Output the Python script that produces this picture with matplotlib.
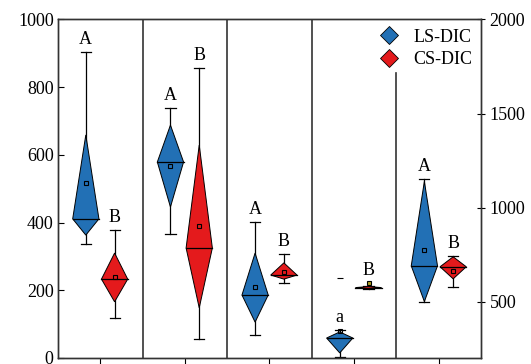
import matplotlib
matplotlib.use('Agg')
from matplotlib import pyplot as plt
from matplotlib.patches import Polygon
from matplotlib.lines import Line2D

plt.rcParams['font.family'] = ['Liberation Serif', 'DejaVu Serif']

# panels 1-4 on the left axis, panel 5 on the right axis
groups = [1, 2, 3, 4, 5]

ls_wlow = [337, 366, 68, 3, 500]
ls_q1 = [363, 446, 106, 15, 500]
ls_med = [411, 579, 186, 59, 690]
ls_q3 = [659, 688, 310, 77, 1139]
ls_whigh = [904, 739, 402, 83, 1150]
ls_mean = [517, 567, 210, 80, 775]
ls_letters = ['A', 'A', 'A', 'a', 'A']

cs_wlow = [118, 56, 222, 203, 579]
cs_q1 = [166, 148, 233, 205, 621]
cs_med = [233, 325, 245, 208, 685]
cs_q3 = [310, 629, 281, 211, 738]
cs_whigh = [378, 857, 307, 213, 743]
cs_mean = [240, 390, 254, 221, 664]
cs_letters = ['B', 'B', 'B', 'B', 'B']

ls_extra = [None, None, None, 236, None]

blue = '#2270b5'
red = '#e41a1c'

fig = plt.figure(figsize=(5.31, 3.64), dpi=100)
ax = fig.add_axes([0.109, 0.0165, 0.797, 0.93])
ax2 = ax.twinx()


def draw_box(a, x, wl, q1, med, q3, wh, mean, color, letter, mean_color='none'):
    hw = 0.155
    cap = 0.06
    a.plot([x, x], [wl, wh], color='black', lw=0.9, zorder=2)
    a.plot([x - cap, x + cap], [wl, wl], color='black', lw=0.9, zorder=2)
    a.plot([x - cap, x + cap], [wh, wh], color='black', lw=0.9, zorder=2)
    poly = Polygon([[x, q3], [x + hw, med], [x, q1], [x - hw, med]], closed=True,
                   facecolor=color, edgecolor='black', lw=0.7, zorder=3)
    a.add_patch(poly)
    a.plot([x - hw, x + hw], [med, med], color='black', lw=0.9, zorder=4)
    a.plot([x], [mean], marker='s', ms=3.5, mfc=mean_color, mec='black', mew=0.8, zorder=5)
    a.annotate(letter, (x, max(wh, mean)), xytext=(0, 3), textcoords='offset points',
               ha='center', va='bottom', fontsize=13)


for i, g in enumerate(groups):
    a = ax if g < 5 else ax2
    mc = '#b0a020' if g == 4 else 'none'
    draw_box(a, g - 0.17, ls_wlow[i], ls_q1[i], ls_med[i], ls_q3[i], ls_whigh[i], ls_mean[i], blue, ls_letters[i])
    draw_box(a, g + 0.17, cs_wlow[i], cs_q1[i], cs_med[i], cs_q3[i], cs_whigh[i], cs_mean[i], red, cs_letters[i], mc)
    if ls_extra[i] is not None:
        a.plot([g - 0.17], [ls_extra[i]], marker='_', ms=4, color='black', mew=0.8)

for xd in [1.5, 2.5, 3.5]:
    ax.axvline(xd, color='#333333', lw=1.2)
ax.axvline(4.5, ymax=0.842, color='#333333', lw=1.2)

ax.set_xlim(0.5, 5.5)
ax.set_ylim(0, 1000)
ax2.set_ylim(200, 2000)
ax.set_xticks(groups)
ax.set_xticklabels([])
ax.set_yticks([0, 200, 400, 600, 800, 1000])
ax2.set_yticks([500, 1000, 1500, 2000])
ax.tick_params(axis='y', direction='in', length=4, labelsize=13, pad=3)
ax.tick_params(axis='x', direction='out', length=6)
ax2.tick_params(axis='y', direction='inout', length=6, labelsize=13, pad=3)
for a in (ax, ax2):
    for s in a.spines.values():
        s.set_color('#333333')
        s.set_linewidth(1.0)

handles = [Line2D([], [], marker='D', ls='none', ms=9, mfc=blue, mec='black', mew=0.6),
           Line2D([], [], marker='D', ls='none', ms=9, mfc=red, mec='black', mew=0.6)]
ax2.legend(handles, ['LS-DIC', 'CS-DIC'], loc='upper right', frameon=False, fontsize=13,
           handletextpad=0.6, borderaxespad=0.1, labelspacing=0.3, handlelength=1.5)

fig.savefig('out.png', dpi=100)
